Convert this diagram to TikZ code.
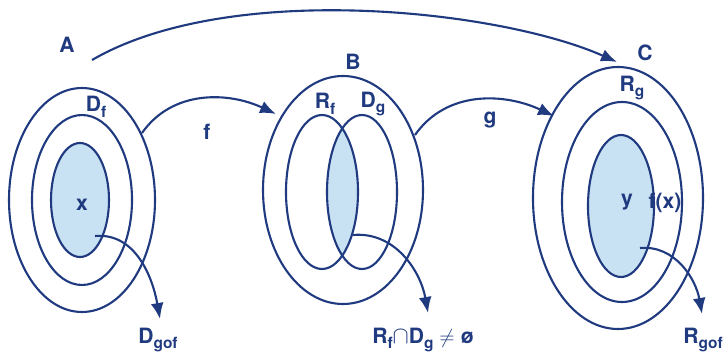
\documentclass[tikz,border=0pt]{standalone}
\usepackage{fontspec}
\setmainfont{TeX Gyre Heros}
\usetikzlibrary{arrows.meta}

\definecolor{inkblue}{RGB}{32,58,128}
\definecolor{setfill}{RGB}{200,226,244}

\newcommand{\sublbl}[2]{#1\raisebox{-0.5ex}{\fontsize{11}{12}\selectfont #2}}

\tikzset{
  setline/.style={draw=inkblue, line width=1.5pt},
  maparrow/.style={inkblue, line width=1.5pt, -{Latex[length=4mm,width=3.2mm]}},
  lbl/.style={text=inkblue, font=\fontsize{15}{18}\selectfont\bfseries, inner sep=1pt}
}

\begin{document}
\begin{tikzpicture}[x=0.025cm, y=-0.025cm]
    \useasboundingbox (0,0) rectangle (723,360);

    % 1. Tap A: ba ellip long nhau
    \fill[setfill] (80,200) ellipse [x radius=29, y radius=57];
    \draw[setline] (82,200) ellipse [x radius=73, y radius=112];
    \draw[setline] (82,200) ellipse [x radius=50, y radius=85];
    \draw[setline] (80,200) ellipse [x radius=29, y radius=57];

    % 2. Tap B: R_f va D_g cat nhau
    \begin{scope}
        \clip (322,192) ellipse [x radius=36, y radius=77];
        \fill[setfill] (362,192) ellipse [x radius=35, y radius=77];
    \end{scope}
    \draw[setline] (343,190) ellipse [x radius=80, y radius=114];
    \draw[setline] (322,192) ellipse [x radius=36, y radius=77];
    \draw[setline] (362,192) ellipse [x radius=35, y radius=77];

    % 3. Tap C: ba ellip long nhau
    \fill[setfill] (621,206) ellipse [x radius=33, y radius=71];
    \draw[setline] (618,198) ellipse [x radius=85, y radius=131];
    \draw[setline] (622,202) ellipse [x radius=60, y radius=100];
    \draw[setline] (621,206) ellipse [x radius=33, y radius=71];

    % 4. Nhan
    \node[lbl] (labA) at (67,45) {A};
    \node[lbl] (labDf) at (96,107) {\sublbl{D}{f}};
    \node[lbl] (labx) at (82,205) {x};
    \node[lbl] (labf) at (207,132) {f};
    \node[lbl] (labB) at (353,62) {B};
    \node[lbl] (labRf) at (325,104) {\sublbl{R}{f}};
    \node[lbl] (labDg) at (373,104) {\sublbl{D}{g}};
    \node[lbl] (labg) at (490,120) {g};
    \node[lbl] (labC) at (645,53) {C};
    \node[lbl] (labRg) at (632,88) {\sublbl{R}{g}};
    \node[lbl] (laby) at (627,202) {y};
    \node[lbl] (labfx) at (665,203) {f(x)};
    \node[lbl] (labDgof) at (158,340) {\sublbl{D}{gof}};
    \node[lbl] (labcap) at (423,340) {\sublbl{R}{f}{\LARGE$\cap$}\sublbl{D}{g} {\Large$\neq$} ø};
    \node[lbl] (labRgof) at (703,340) {\sublbl{R}{gof}};

    % 5. Diem dau, diem cuoi cua mui ten
    \coordinate (sA) at (92,60);
    \coordinate (eC) at (617,62);
    \coordinate (sf) at (142,133);
    \coordinate (ef) at (276,114);
    \coordinate (sg) at (415,135);
    \coordinate (eg) at (554,116);
    \coordinate (sx) at (95,236);
    \coordinate (ex) at (160,319);
    \coordinate (sRD) at (353,235);
    \coordinate (eRD) at (428,313);
    \coordinate (sy) at (640,248);
    \coordinate (ey) at (702,314);

    % 6. Mui ten
    \draw[maparrow] (sA) .. controls (230,-20) and (500,10) .. (eC);
    \draw[maparrow] (sf) to[out=55, in=155] (ef);
    \draw[maparrow] (sg) to[out=55, in=155] (eg);
    \draw[maparrow] (sx) to[out=5, in=100] (ex);
    \draw[maparrow] (sRD) to[out=5, in=100] (eRD);
    \draw[maparrow] (sy) to[out=5, in=100] (ey);
\end{tikzpicture}
\end{document}
